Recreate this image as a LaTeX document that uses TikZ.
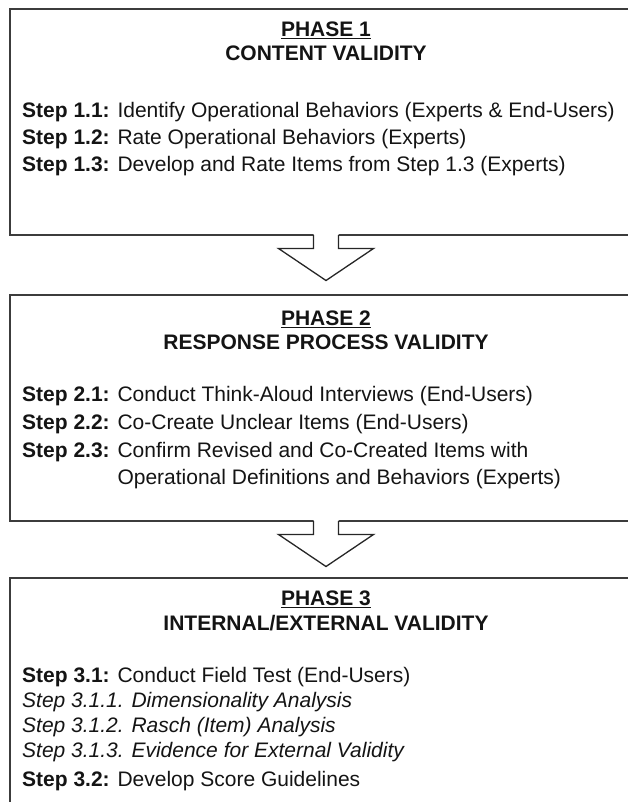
\documentclass[tikz,border=0pt]{standalone}
\usepackage{fontspec}
\setmainfont{Liberation Sans}
\usetikzlibrary{calc}
\definecolor{boxline}{HTML}{3C3C3C}
\definecolor{arrowline}{HTML}{262626}
\definecolor{ink}{HTML}{141414}

% block arrow hanging from the bottom edge of a phase box
\newcommand\phasearrow[1]{%
  \fill[white] ($(#1.south)+(-12.5,1.5)$) -- ($(#1.south)+(-12.5,-13.5)$)
    -- ($(#1.south)+(-47.5,-13.5)$) -- ($(#1.south)+(0,-45.5)$)
    -- ($(#1.south)+(47.5,-13.5)$) -- ($(#1.south)+(12.5,-13.5)$)
    -- ($(#1.south)+(12.5,1.5)$) -- cycle;
  \draw[flow] ($(#1.south)+(-12.5,0)$) -- ($(#1.south)+(-12.5,-13.5)$)
    -- ($(#1.south)+(-47.5,-13.5)$) -- ($(#1.south)+(0,-45.5)$)
    -- ($(#1.south)+(47.5,-13.5)$) -- ($(#1.south)+(12.5,-13.5)$)
    -- ($(#1.south)+(12.5,0)$);
}

\begin{document}
\begin{tikzpicture}[x=1pt,y=1pt,
  phasebox/.style={draw=boxline, line width=1.6pt, minimum width=632pt,
    inner sep=0pt, outer sep=0pt, anchor=north west},
  txt/.style={anchor=base west, inner sep=0pt, text=ink,
    font=\fontsize{21}{25}\selectfont},
  ttl/.style={anchor=base, inner sep=0pt, text=ink,
    font=\fontsize{21}{25}\selectfont\bfseries},
  uline/.style={draw=ink, line width=1.3pt},
  flow/.style={draw=arrowline, line width=1.3pt, line join=miter},
]
\useasboundingbox (0,0) rectangle (628,-802);
\clip (0,0) rectangle (628,-802);

% phase boxes (they run past the right and bottom edges)
\node[phasebox, minimum height=226pt] (p1) at (10,-9) {};
\node[phasebox, minimum height=226pt] (p2) at (10,-295) {};
\node[phasebox, minimum height=260pt] (p3) at (10,-578) {};

% arrows between phases
\phasearrow{p1}
\phasearrow{p2}

% phase 1
\node[ttl] (h1) at (326,-36.5) {PHASE 1};
\draw[uline] ([yshift=-2.2pt]h1.base west) -- ([yshift=-2.2pt]h1.base east);
\node[ttl] (n1) at (326,-60.5) {CONTENT VALIDITY};
\node[txt] (s11) at (22,-117.5) {\textbf{Step 1.1:} Identify Operational Behaviors (Experts \& End-Users)};
\node[txt] (s12) at (22,-145) {\textbf{Step 1.2:} Rate Operational Behaviors (Experts)};
\node[txt] (s13) at (22,-172) {\textbf{Step 1.3:} Develop and Rate Items from Step 1.3 (Experts)};

% phase 2
\node[ttl] (h2) at (326,-325.5) {PHASE 2};
\draw[uline] ([yshift=-2.2pt]h2.base west) -- ([yshift=-2.2pt]h2.base east);
\node[ttl] (n2) at (326,-349.5) {RESPONSE PROCESS VALIDITY};
\node[txt] (s21) at (22,-401.5) {\textbf{Step 2.1:} Conduct Think-Aloud Interviews (End-Users)};
\node[txt] (s22) at (22,-429.5) {\textbf{Step 2.2:} Co-Create Unclear Items (End-Users)};
\node[txt] (s23) at (22,-457.5) {\textbf{Step 2.3:} Confirm Revised and Co-Created Items with};
\node[txt] (s23b) at (22,-484.5) {\hphantom{\textbf{Step 2.3:} }Operational Definitions and Behaviors (Experts)};

% phase 3
\node[ttl] (h3) at (326,-605.5) {PHASE 3};
\draw[uline] ([yshift=-2.2pt]h3.base west) -- ([yshift=-2.2pt]h3.base east);
\node[ttl] (n3) at (326,-630.5) {INTERNAL/EXTERNAL VALIDITY};
\node[txt] (s31) at (22,-682.5) {\textbf{Step 3.1:} Conduct Field Test (End-Users)};
\node[txt] (s311) at (22,-707.5) {\itshape Step 3.1.1. Dimensionality Analysis};
\node[txt] (s312) at (22,-732.5) {\itshape Step 3.1.2. Rasch (Item) Analysis};
\node[txt] (s313) at (22,-757.5) {\itshape Step 3.1.3. Evidence for External Validity};
\node[txt] (s32) at (22,-786.5) {\textbf{Step 3.2:} Develop Score Guidelines};
\end{tikzpicture}
\end{document}
